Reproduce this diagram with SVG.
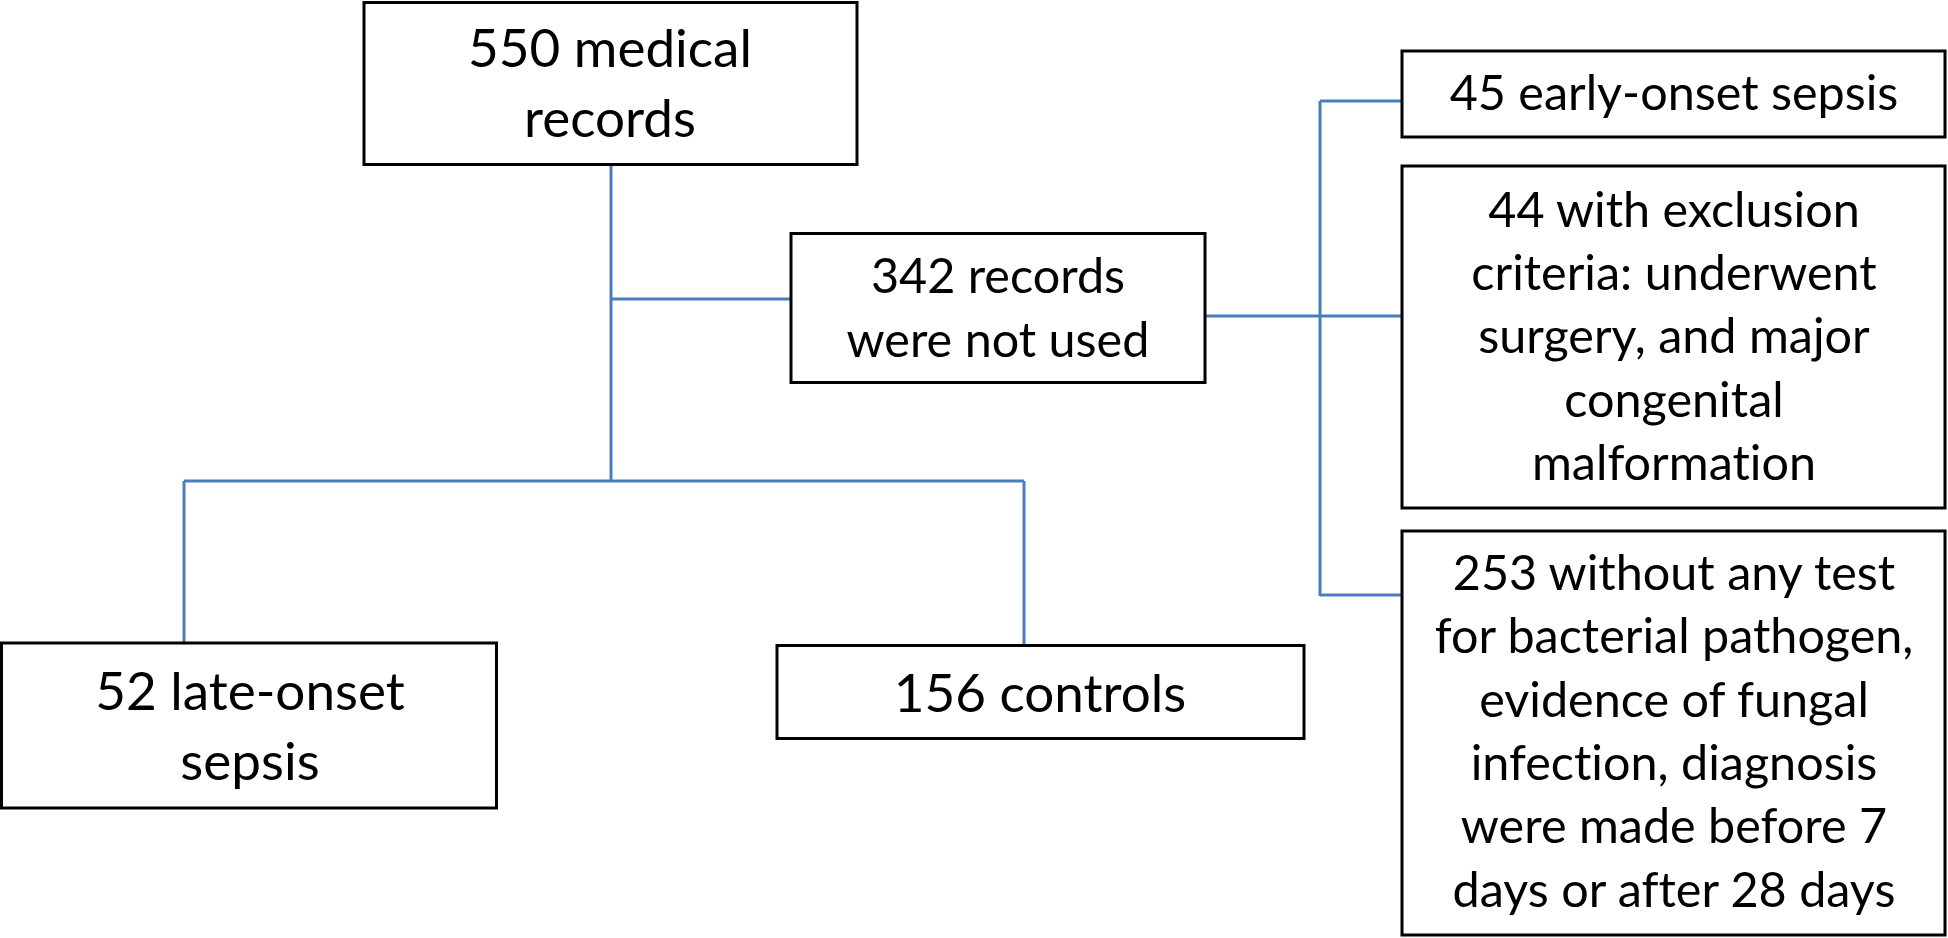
<svg xmlns="http://www.w3.org/2000/svg" width="1948" height="938" viewBox="0 0 1948 938">
<style>
.box{fill:#fff;stroke:#000;stroke-width:3}
.c{fill:none;stroke:#4a7ebb;stroke-width:3}
text{font-family:Lato,"Open Sans","Liberation Sans",sans-serif;fill:#000;text-anchor:middle;font-variant-ligatures:none}
.lg{font-size:53px}
.sm{font-size:48.5px}
</style>
<rect width="1948" height="938" fill="#fff"/>
<g id="connectors">
<path class="c" d="M611 164V481"/>
<path class="c" d="M611 299H791"/>
<path class="c" d="M184 481H1024"/>
<path class="c" d="M184 481V643"/>
<path class="c" d="M1024 481V645"/>
<path class="c" d="M1205 316H1402"/>
<path class="c" d="M1320 101V596"/>
<path class="c" d="M1320 101H1402"/>
<path class="c" d="M1320 595H1402"/>
</g>
<g id="n550">
<rect class="box" x="364" y="2.5" width="493" height="162"/>
<text class="lg" x="610" y="67">550 medical</text>
<text class="lg" x="610" y="137">records</text>
</g>
<g id="n342">
<rect class="box" x="791" y="233.5" width="414" height="149"/>
<text class="sm" x="998" y="293">342 records</text>
<text class="sm" x="998" y="357">were not used</text>
</g>
<g id="n45">
<rect class="box" x="1402" y="51" width="543" height="86"/>
<text class="sm" x="1674" y="110">45 early-onset sepsis</text>
</g>
<g id="n44">
<rect class="box" x="1402" y="166" width="543" height="342"/>
<text class="sm" x="1674" y="227">44 with exclusion</text>
<text class="sm" x="1674" y="290">criteria: underwent</text>
<text class="sm" x="1674" y="353">surgery, and major</text>
<text class="sm" x="1674" y="417">congenital</text>
<text class="sm" x="1674" y="480">malformation</text>
</g>
<g id="n253">
<rect class="box" x="1402" y="531" width="543" height="404"/>
<text class="sm" x="1674" y="590">253 without any test</text>
<text class="sm" x="1674" y="653">for bacterial pathogen,</text>
<text class="sm" x="1674" y="717">evidence of fungal</text>
<text class="sm" x="1674" y="780">infection, diagnosis</text>
<text class="sm" x="1674" y="843">were made before 7</text>
<text class="sm" x="1674" y="907">days or after 28 days</text>
</g>
<g id="n52">
<rect class="box" x="1.5" y="643" width="495" height="165"/>
<text class="lg" x="250" y="710">52 late-onset</text>
<text class="lg" x="250" y="780">sepsis</text>
</g>
<g id="n156">
<rect class="box" x="777" y="645.5" width="527" height="93"/>
<text class="lg" x="1040" y="712">156 controls</text>
</g>
</svg>
